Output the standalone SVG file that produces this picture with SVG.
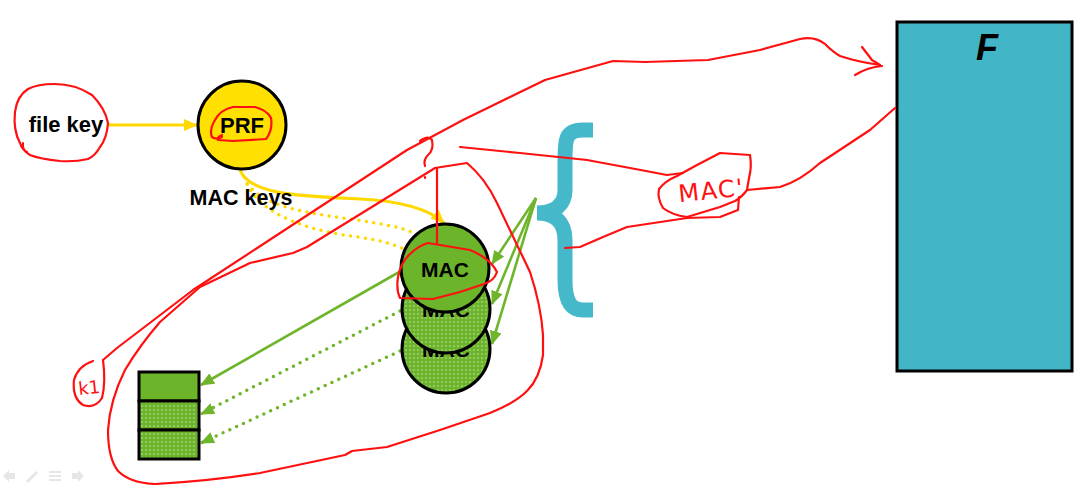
<svg xmlns="http://www.w3.org/2000/svg" width="1086" height="485" viewBox="0 0 1086 485">
<style>
.lbl{font-family:"Liberation Sans",Arial,sans-serif;font-weight:bold;fill:#000;text-anchor:middle}
.pen{fill:none;stroke:#FF1010;stroke-width:2.2;stroke-linejoin:round;stroke-linecap:round}
.hand{font-family:"DejaVu Sans","Liberation Sans",sans-serif;fill:#FF1010}
.node{stroke:#000;stroke-width:3}
.g{stroke:#6EB52B;stroke-width:2.6;fill:none}
.gd{stroke:#6EB52B;stroke-width:3.5;fill:none;stroke-dasharray:0 7.5;stroke-linecap:round}
.y{stroke:#FFD800;stroke-width:3.2;fill:none}
.yd{stroke:#FFD800;stroke-width:3.5;fill:none;stroke-dasharray:0 7.5;stroke-linecap:round}
</style>
<defs>
<marker id="ag" markerUnits="userSpaceOnUse" markerWidth="14" markerHeight="12" refX="13" refY="6" orient="auto"><path d="M0,0 L14,6 L0,12 z" fill="#6EB52B"/></marker>
<marker id="ay" markerUnits="userSpaceOnUse" markerWidth="14" markerHeight="12" refX="13" refY="6" orient="auto"><path d="M0,0 L14,6 L0,12 z" fill="#FFD800"/></marker>
<pattern id="dots" width="4" height="4" patternUnits="userSpaceOnUse"><rect width="4" height="4" fill="#6CB42A"/><circle cx="2" cy="2" r="0.7" fill="#fff" opacity="0.75"/></pattern>
</defs>
<rect width="1086" height="485" fill="#fff"/>

<g id="connectors">
<path class="y" d="M108,125 L197,125" marker-end="url(#ay)"/>
<path class="y" d="M240,170 C250,195 300,196 360,199 C400,201 428,208 444,223" marker-end="url(#ay)"/>
<path class="yd" d="M244,177 C255,205 300,212 350,219 C385,224 405,228 418,235"/>
<path class="yd" d="M247,184 C262,216 310,230 350,236 C380,240 395,244 405,250"/>
<path class="g" d="M401,271 L201,385" marker-end="url(#ag)"/>
<path class="gd" d="M400,311 L201,414"/>
<path class="g" d="M212,409 L201,414" marker-end="url(#ag)"/>
<path class="gd" d="M400,351 L201,443"/>
<path class="g" d="M212,438 L201,443" marker-end="url(#ag)"/>
<path class="g" d="M536,198 L492,264" marker-end="url(#ag)"/>
<path class="g" d="M536,198 L492,304" marker-end="url(#ag)"/>
<path class="g" d="M536,198 L492,344" marker-end="url(#ag)"/>
</g>

<g id="filekey"><text class="lbl" x="66" y="132" font-size="22">file key</text></g>
<g id="prf">
<circle class="node" cx="242" cy="125" r="44" fill="#FFE000"/>
<text class="lbl" x="242" y="133" font-size="22">PRF</text>
</g>
<g id="mackeys"><text class="lbl" x="241" y="205" font-size="21.5">MAC keys</text></g>

<g id="mac3">
<circle class="node" cx="446" cy="349" r="44" fill="url(#dots)"/>
<text class="lbl" x="446" y="357" font-size="21">MAC</text>
</g>
<g id="mac2">
<circle class="node" cx="446" cy="309" r="44" fill="url(#dots)"/>
<text class="lbl" x="446" y="317" font-size="21">MAC</text>
</g>
<g id="mac1">
<circle class="node" cx="445" cy="268" r="44" fill="#6CB42A"/>
<text class="lbl" x="445" y="277" font-size="21">MAC</text>
</g>

<g id="blocks">
<rect class="node" x="139" y="372" width="60" height="29" fill="#6CB42A"/>
<rect class="node" x="139" y="401" width="60" height="29" fill="url(#dots)"/>
<rect class="node" x="139" y="430" width="60" height="29" fill="url(#dots)"/>
</g>

<g id="brace">
<path d="M593,130 L583,130 C565,130 565,140 565,160 L565,190 C565,205 555,213 537,213 C555,213 565,222 565,240 L565,280 C565,300 570,310 583,310 L593,310" fill="none" stroke="#45B8C9" stroke-width="15"/>
</g>

<g id="F">
<rect x="897" y="22" width="175" height="349" fill="#42B5C7" stroke="#000" stroke-width="3"/>
<text class="lbl" x="987" y="60" font-size="36" font-style="italic">F</text>
</g>

<g id="annotations">
<path class="pen" d="M23,143 Q22,150 27,152 M20,143 Q13,130 15,112 Q17,96 28,89 Q37,84 55,84 Q75,84 92,95 Q105,108 108,123 Q107,138 100,147 Q95,156 88,159 Q75,162 60,161 Q40,159 30,155 Q22,150 20,143"/>
<path class="pen" d="M222,135 Q216,138 218,140 L233,141 L266,139 Q273,130 271,118 Q267,110 255,107 L233,107 Q220,110 215,120 Q209,130 212,137 Q216,140 222,137"/>
<path class="pen" d="M103,360 L117,348 L193,290 L300,220 L407,150 L463,120 L545,80 L613,61 L645,62 L708,60 L760,50 L800,39 Q815,36 825,44 Q833,52 840,56 Q858,62 880,65"/>
<path class="pen" d="M862,47 L872,60 L880,65 M855,75 Q868,67 882,66"/>
<path class="pen" d="M93,361 Q78,366 74,380 Q72,398 83,405 Q95,409 102,398 Q106,382 103,360"/>
<text class="hand" x="78" y="394" font-size="18" transform="rotate(-6 88 386)">k1</text>
<path class="pen" d="M467,163 L435,168 L307,247 L293,253 L250,263 L200,287 L160,322 Q140,345 125,370 Q110,400 108,430 Q108,458 118,471 Q130,483 155,484 Q210,481 260,473 L345,455 L352,451 L387,447 L440,430 L490,413 Q515,403 527,391 Q540,378 543,355 L543,335 Q541,305 530,272 L497,203 Q485,178 467,163 Z"/>
<path class="pen" d="M437,168 L437,243"/>
<path class="pen" d="M428,243 L470,250 Q490,258 497,272 Q494,281 484,284 L460,292 L433,299 L400,298 Q396,290 398,277 Q401,262 410,254 Q418,246 428,243"/>
<path class="pen" d="M420,141 Q428,135 432,140 Q434,150 428,155 Q423,160 425,166 M425,177 L425,178"/>
<path class="pen" d="M460,147 L520,153 L587,160 L630,168 L667,175 L683,173"/>
<path class="pen" d="M677,176 L697,165 L720,153 L750,155 Q752,167 749,178 L747,190 Q742,197 735,201 L720,207 L687,217 Q672,215 663,208 Q657,198 659,189 Q665,181 677,176"/>
<path class="pen" d="M739,197 L738,210 L720,217 L687,218 L627,227 L603,237 L580,247 L565,248"/>
<path class="pen" d="M747,190 L780,187 Q800,181 820,163 L870,130 L895,108"/>
<text class="hand" x="678" y="199" font-size="24" letter-spacing="1.5" transform="rotate(-6 710 188)">MAC'</text>
</g>

<g id="toolbar" fill="#e6e6e6">
<path d="M3,476 L9,470 L9,473 L15,473 L15,479 L9,479 L9,482 Z"/>
<path d="M26,481 L36,471 L38,473 L28,483 Z"/>
<rect x="49" y="471" width="12" height="2"/><rect x="49" y="475" width="12" height="2"/><rect x="49" y="479" width="12" height="2"/>
<path d="M84,476 L78,470 L78,473 L72,473 L72,479 L78,479 L78,482 Z"/>
</g>
</svg>
